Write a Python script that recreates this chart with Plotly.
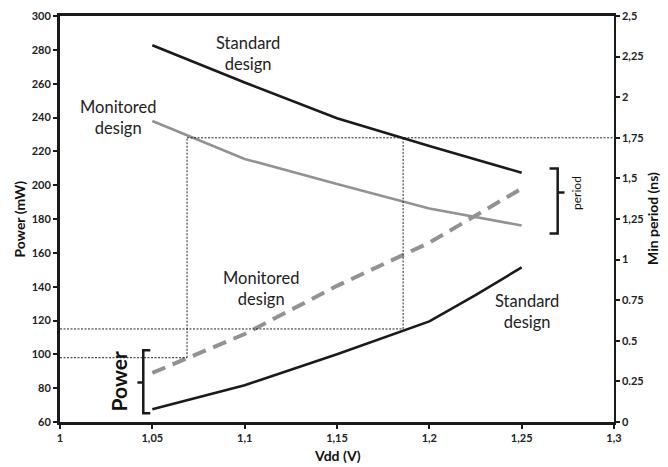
import plotly.graph_objects as go

# ---- data ----
vdd = [1.05, 1.1, 1.15, 1.2, 1.25]
period_standard = [2.32, 2.09, 1.87, 1.70, 1.535]
period_monitored = [1.853, 1.62, 1.465, 1.315, 1.21]

vdd_power_std = [1.05, 1.1, 1.15, 1.2, 1.225, 1.25]
power_standard = [67.5, 81.7, 100.0, 119.5, 135.0, 151.4]
power_monitored = [89.0, 112.0, 140.5, 166.0, 198.0]

x_ticks = [1, 1.05, 1.1, 1.15, 1.2, 1.25, 1.3]
x_ticktext = ["1", "1,05", "1,1", "1,15", "1,2", "1,25", "1,3"]
y_ticks = list(range(60, 301, 20))
y2_ticks = [0, 0.25, 0.5, 0.75, 1, 1.25, 1.5, 1.75, 2, 2.25, 2.5]
y2_ticktext = ["0", "0.25", "0.5", "0.75", "1", "1,25", "1,5", "1,75", "2", "2,25", "2,5"]

# guide (dotted) values
target_period = 1.75
vdd_mon_at_target = 1.0688
vdd_std_at_target = 1.1858
power_mon_at_target = 98
power_std_at_target = 115

FONT = "Lato"
BLACK = "#1a1a1a"
GRAY = "#929292"

fig = go.Figure()
fig.add_trace(go.Scatter(x=vdd, y=period_standard, yaxis="y2", mode="lines",
                         line=dict(color=BLACK, width=2.6), showlegend=False))
fig.add_trace(go.Scatter(x=vdd, y=period_monitored, yaxis="y2", mode="lines",
                         line=dict(color=GRAY, width=2.6), showlegend=False))
fig.add_trace(go.Scatter(x=vdd_power_std, y=power_standard, mode="lines",
                         line=dict(color=BLACK, width=2.6), showlegend=False))
fig.add_trace(go.Scatter(x=vdd, y=power_monitored, mode="lines",
                         line=dict(color=GRAY, width=4, dash="14px,8px"), showlegend=False))

# period value -> equivalent left-axis value (axes are aligned 0..2.5 <-> 60..300)
def p2w(p):
    return 60 + p * 96

dot = dict(color="#222", width=1, dash="2px,1.5px")
shapes = [
    dict(type="line", xref="x", yref="y", x0=vdd_mon_at_target, x1=1.3,
         y0=p2w(target_period), y1=p2w(target_period), line=dot),
    dict(type="line", xref="x", yref="y", x0=vdd_mon_at_target, x1=vdd_mon_at_target,
         y0=power_mon_at_target, y1=p2w(target_period), line=dot),
    dict(type="line", xref="x", yref="y", x0=vdd_std_at_target, x1=vdd_std_at_target,
         y0=power_std_at_target, y1=p2w(target_period), line=dot),
    dict(type="line", xref="x", yref="y", x0=1.0, x1=vdd_mon_at_target,
         y0=power_mon_at_target, y1=power_mon_at_target, line=dot),
    dict(type="line", xref="x", yref="y", x0=1.0, x1=vdd_std_at_target,
         y0=power_std_at_target, y1=power_std_at_target, line=dot),
    # Power brace
    dict(type="path", xref="x", yref="y",
         path="M 1.0489,102.4 L 1.0451,102.4 L 1.0451,65.1 L 1.0489,65.1 M 1.0451,83.4 L 1.0419,83.4",
         line=dict(color=BLACK, width=2.5)),
    # period brace
    dict(type="path", xref="x", yref="y",
         path="M 1.2651,209.9 L 1.2695,209.9 L 1.2695,171.5 L 1.2651,171.5 M 1.2695,195.7 L 1.2732,195.7",
         line=dict(color=BLACK, width=2.5)),
]

tf = dict(family=FONT, size=16.5, color="#222")
titlefont = dict(family=FONT, size=14, color="#111", weight="bold")
annotations = [
    dict(x=1.1019, y=277.8, text="Standard<br>design", showarrow=False, font=tf),
    dict(x=1.0316, y=240, text="Monitored<br>design", showarrow=False, font=tf),
    dict(x=1.1089, y=139, text="Monitored<br>design", showarrow=False, font=tf),
    dict(x=1.2527, y=125.4, text="Standard<br>design", showarrow=False, font=tf),
    dict(x=1.0314, y=84, text="<b>Power</b>", showarrow=False, textangle=-90,
         font=dict(family=FONT, size=21, color="#111")),
    dict(x=1.2797, y=195.1, text="period", showarrow=False, textangle=-90,
         font=dict(family=FONT, size=12, color="#111")),
    # axis titles
    dict(xref="paper", yref="paper", x=0, y=0.5, xshift=-41.5, xanchor="center",
         yanchor="middle", text="Power (mW)", showarrow=False, textangle=-90, font=titlefont),
    dict(xref="paper", yref="paper", x=1, y=0.5, xshift=38, xanchor="center",
         yanchor="middle", text="Min period (ns)", showarrow=False, textangle=-90,
         font=titlefont),
    dict(xref="paper", yref="paper", x=0.5, y=0, yshift=-33, xanchor="center",
         yanchor="middle", text="Vdd (V)", showarrow=False, font=titlefont),
]

tickfont = dict(family=FONT, size=11, color="#222", weight="bold")

# the page body adds an 8px offset; margins are set so the plot area lands where it should
fig.update_layout(
    width=668, height=467,
    margin=dict(l=51.5, r=62, t=7.5, b=53.3, autoexpand=False),
    paper_bgcolor="white", plot_bgcolor="white",
    shapes=shapes, annotations=annotations,
    xaxis=dict(range=[1, 1.3], tickvals=x_ticks, ticktext=x_ticktext, automargin=False,
               showgrid=False, zeroline=False, showline=True, linewidth=3, linecolor=BLACK,
               mirror=True, ticks="outside", ticklen=4, tickwidth=1.5, tickcolor=BLACK,
               tickfont=tickfont),
    yaxis=dict(range=[60, 300], tickvals=y_ticks, showgrid=False, zeroline=False,
               automargin=False,
               showline=True, linewidth=3, linecolor=BLACK, ticks="outside", ticklen=4,
               tickwidth=1.5, tickcolor=BLACK, tickfont=tickfont),
    yaxis2=dict(range=[0, 2.5], tickvals=y2_ticks, ticktext=y2_ticktext, overlaying="y",
                automargin=False,
                side="right", showgrid=False, zeroline=False, showline=True, linewidth=1.5,
                linecolor=BLACK, ticks="outside", ticklen=4, tickwidth=1.5, tickcolor=BLACK,
                tickfont=tickfont),
)

fig.write_html("out.html")
